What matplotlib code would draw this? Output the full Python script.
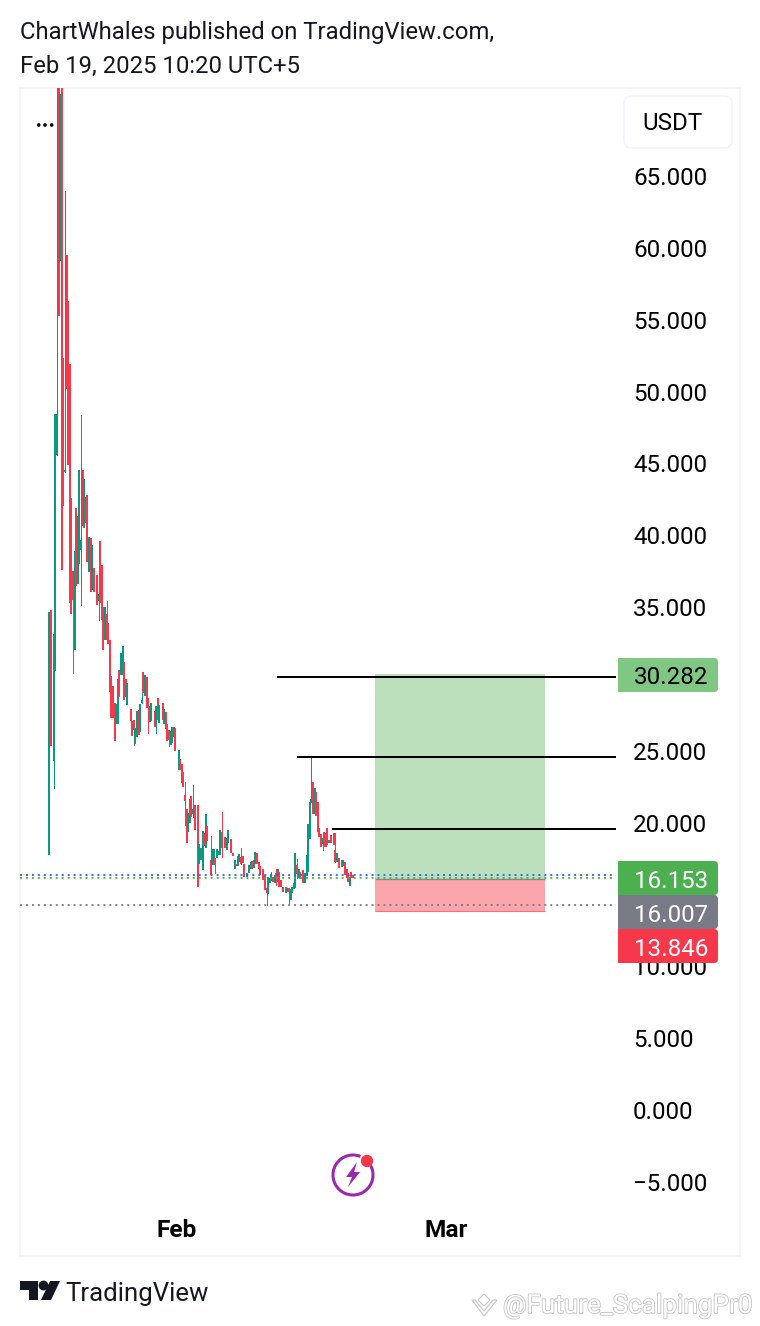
import matplotlib
matplotlib.use('Agg')
import matplotlib.pyplot as plt
import matplotlib.patheffects as pe
from matplotlib.patches import Rectangle, FancyBboxPatch, Circle, Polygon, Arc
from matplotlib.transforms import ScaledTranslation

plt.rcParams['font.family'] = ['Roboto', 'DejaVu Sans']

# 4h candles, bar 0 is the first candle on the chart
bars = [0, 1, 3, 4, 5, 6, 7, 8, 9, 10,
        11, 12, 13, 14, 15, 16, 17, 18, 19, 20,
        21, 22, 23, 24, 25, 26, 27, 28, 30, 31,
        32, 33, 34, 35, 36, 37, 38, 39, 40, 41,
        42, 43, 44, 45, 46, 47, 48, 49, 51, 52,
        53, 54, 55, 56, 57, 58, 59, 60, 61, 62,
        63, 64, 66, 67, 68, 69, 71, 72, 73, 74,
        75, 76, 77, 78, 79, 81, 82, 83, 84, 85,
        86, 87, 88, 89, 90, 91, 93, 94, 95, 96,
        97, 98, 99, 101, 102, 103, 104, 105, 106, 107,
        108, 110, 111, 112, 114, 115, 116, 117, 118, 119,
        120, 121, 122, 124, 125, 126, 127, 128, 129, 130,
        131, 132, 134, 135, 136, 137, 138, 139, 140, 141,
        142, 143, 144, 145, 146, 148, 149, 150, 151, 152,
        153, 154, 155, 156, 157, 159, 160, 161, 162, 163,
        164, 165, 166, 167, 168, 169, 170, 171, 172, 173,
        174, 175, 176, 178, 179, 180, 181, 183, 184, 185,
        186, 187, 188, 189, 190]
body_top = [34.73, 34.87, 33.20, 48.51, 48.51, 71.19, 70.78, 71.19, 52.41, 44.63,
            59.57, 56.37, 51.99, 42.67, 37.59, 38.98, 41.97, 41.41, 44.61, 39.75,
            44.61, 43.99, 42.74, 42.88, 39.95, 39.88, 39.40, 37.80, 37.31, 36.00,
            39.67, 37.99, 35.08, 35.08, 34.60, 33.97, 32.79, 30.28, 29.58, 28.40,
            28.33, 30.07, 30.70, 31.88, 32.37, 31.26, 30.07, 29.79, 27.98, 27.15,
            27.22, 26.66, 27.84, 27.91, 28.33, 28.60, 30.56, 30.35, 30.21, 28.75,
            28.19, 28.40, 27.84, 28.19, 28.75, 28.26, 28.40, 27.98, 27.78, 26.94,
            26.52, 26.45, 26.73, 26.73, 26.66, 25.13, 24.50, 24.16, 23.60, 22.00,
            21.03, 20.75, 21.72, 21.93, 21.00, 21.30, 21.30, 18.59, 18.32, 19.50,
            19.36, 20.68, 19.84, 17.48, 18.24, 18.24, 17.62, 18.24, 18.10, 19.57,
            19.43, 19.08, 19.01, 19.57, 18.94, 17.97, 17.48, 17.20, 17.76, 17.90,
            17.68, 17.76, 17.20, 16.57, 17.13, 17.34, 17.41, 17.48, 18.03, 17.97,
            17.34, 17.06, 16.85, 16.43, 15.50, 16.30, 16.23, 16.50, 16.30, 16.43,
            16.60, 16.85, 16.64, 16.09, 15.60, 15.60, 15.53, 15.53, 15.46, 15.60,
            15.88, 17.97, 17.10, 16.85, 16.64, 16.78, 16.57, 17.83, 19.98, 21.51,
            21.70, 22.91, 22.49, 22.21, 21.52, 19.70, 19.29, 19.00, 19.43, 19.36,
            19.70, 18.87, 19.22, 19.36, 18.17, 17.97, 17.62, 17.48, 17.48, 17.34,
            16.85, 16.57, 16.30, 16.64, 16.43]
body_bot = [17.83, 25.41, 24.37, 30.63, 45.66, 55.33, 59.16, 37.66, 42.11, 44.47,
            50.25, 44.96, 35.36, 34.60, 35.57, 32.09, 36.54, 36.68, 38.07, 39.05,
            40.72, 40.58, 40.93, 38.21, 37.52, 36.13, 36.27, 36.13, 35.22, 35.50,
            35.36, 34.18, 32.09, 32.79, 32.79, 32.51, 29.17, 27.36, 27.36, 25.76,
            26.94, 26.94, 28.82, 30.35, 30.35, 28.61, 28.82, 28.26, 27.15, 26.11,
            26.52, 25.55, 26.04, 26.18, 26.38, 28.40, 29.10, 28.89, 28.06, 28.06,
            27.08, 27.15, 26.73, 27.22, 27.22, 27.01, 27.22, 26.94, 26.59, 25.76,
            25.83, 25.48, 25.62, 26.04, 25.06, 23.74, 23.74, 22.84, 22.56, 21.60,
            18.66, 19.43, 20.05, 20.47, 20.70, 19.57, 15.60, 17.20, 17.48, 16.78,
            18.45, 18.32, 18.80, 16.43, 17.13, 17.13, 17.20, 17.62, 17.83, 17.83,
            18.32, 18.32, 18.17, 18.66, 17.97, 17.76, 16.85, 17.06, 17.06, 17.34,
            17.20, 17.27, 16.30, 16.30, 16.57, 16.85, 16.85, 16.92, 17.20, 17.20,
            16.85, 16.43, 16.09, 15.39, 15.20, 15.11, 15.88, 16.09, 15.95, 15.88,
            16.20, 15.95, 15.60, 15.60, 15.25, 15.18, 15.25, 15.25, 14.70, 15.18,
            15.46, 15.53, 16.50, 16.23, 16.15, 15.88, 15.88, 16.37, 16.64, 18.94,
            21.50, 20.68, 20.68, 20.54, 19.43, 19.08, 18.38, 18.60, 18.38, 18.38,
            18.52, 18.66, 18.66, 18.52, 17.34, 17.34, 16.92, 17.00, 17.06, 16.40,
            16.23, 15.95, 15.67, 16.23, 16.23]
directions = ('GRGGGRGRRG' 'RRRRRGRGGG' 'RGRRGRGRRG' 'RRRGRRRRRR' 'GGRGGRRGRR'
              'RGGRGGRGRR' 'RGRGRGRGRR' 'RGGGRGRRRR' 'RGGRGRRGGG' 'RGRRGGRGGG'
              'RRGGRRGRGG' 'RRRGGGRGGR' 'RRRRRGGGRG' 'RGRRRRGRGG' 'GGRGRRGGGG'
              'GRGRRRRGRR' 'RGRRRGRRGR' 'RRGRR')
# wicks, only where they stick out of the body
wick_high = {5: 71.19, 10: 64.03, 20: 48.44, 31: 38.56, 36: 35.50, 58: 30.49, 85: 22.91,
             90: 22.70, 101: 19.15, 108: 20.82, 120: 18.31, 136: 16.09, 139: 16.64,
             142: 16.85, 155: 17.55, 164: 24.64, 171: 19.43, 179: 19.36}
wick_low = {3: 22.49, 15: 30.49, 20: 35.22, 31: 34.18, 53: 25.48, 62: 26.32, 67: 26.32,
            75: 25.41, 85: 19.92, 90: 20.47, 104: 16.57, 108: 17.68, 136: 14.35,
            142: 15.74, 150: 14.49, 155: 16.23, 171: 18.17}

# 30 and 15 sit fully behind the price tags in the reference
price_ticks = [65, 60, 55, 50, 45, 40, 35, 25, 20, 10, 5, 0, -5]
take_profit = 30.282
entry = 16.153
stop_loss = 13.846
resistance_levels = [(30.2, 142.5), (24.64, 155), (19.64, 177)]
blue_level = 16.40
green_level = 16.23
gray_level = 14.34
position_bars = (204, 310)
month_bars = [80, 248]
month_labels = ['Feb', 'Mar']
price_tags = [('30.282', 658, '#81C784', 'black'), ('16.153', 861, '#4CAF50', 'white'),
              ('16.007', 895, '#787B86', 'white'), ('13.846', 929, '#F7374A', 'white')]

UP = '#089981'
DOWN = '#F7374A'
W, H = 760, 1326

fig = plt.figure(figsize=(W / 100, H / 100), dpi=100, facecolor='white')
ax = fig.add_axes([20 / W, 1 - 1256 / H, 720 / W, 1168 / H])
ax.set_xlim(-18.125, 431.875)
ax.set_ylim(-10.08, 71.19)
for s in ax.spines.values():
    s.set_color('#F2F3F5')
    s.set_linewidth(1.1)

for b, t, m, d in zip(bars, body_top, body_bot, directions):
    c = UP if d == 'G' else DOWN
    ax.bar(b, t - m, bottom=m, width=1.25, color=c, linewidth=0, antialiased=False, zorder=3)
    hi = wick_high.get(b, t)
    lo = wick_low.get(b, m)
    if hi > t or lo < m:
        ax.vlines(b, lo, hi, color=c, linewidth=0.72, antialiased=False, zorder=3)

# long position box
x0, x1 = position_bars
ax.add_patch(Rectangle((x0, entry - 0.05), x1 - x0, take_profit + 0.15 - entry, facecolor='#BBE0BB',
                       edgecolor='none', zorder=2))
ax.add_patch(Rectangle((x0, stop_loss), x1 - x0, entry - 0.05 - stop_loss, facecolor='#FCA5AD',
                       edgecolor='none', zorder=2))
ax.hlines(entry, x0, x1, color='#7F8C85', linewidth=1.0, zorder=2.5)
ax.hlines(stop_loss + 0.1, x0, x1, color='#F7707C', linewidth=0.8, zorder=2.5)

right_end = 354.4
for level, start in resistance_levels:
    ax.hlines(level, start, right_end, color='black', linewidth=1.45, zorder=4)
for level, col in [(blue_level, '#2962FF'), (green_level, '#4CAF50'), (gray_level, '#787B86')]:
    ax.hlines(level, -18.125, right_end, color=col, linewidth=1.3,
              linestyle=(0, (1.1, 2.2)), zorder=4)

ax.set_xticks(month_bars)
ax.set_xticklabels(month_labels, fontweight='bold')
ax.tick_params(axis='x', length=0, pad=-26.8, labelsize=17.6, labelcolor='black')
ax.yaxis.tick_right()
ax.set_yticks(price_ticks)
ax.set_yticklabels([f'{v:.3f}'.replace('-', '\u2212') for v in price_ticks], ha='left')
ax.tick_params(axis='y', length=0, pad=-77, labelsize=17.4, labelcolor='black')
for lab in ax.get_yticklabels():
    lab.set_transform(lab.get_transform() + ScaledTranslation(0, 1 / 100, fig.dpi_scale_trans))

# overlay in pixels for the tradingview chrome
ov = fig.add_axes([0, 0, 1, 1])
ov.set_xlim(0, W)
ov.set_ylim(H, 0)
ov.axis('off')
ov.patch.set_alpha(0)

ov.text(20, 33, 'ChartWhales published on TradingView.com,', fontsize=17.2, va='center', color='#131722')
ov.text(20, 66, 'Feb 19, 2025 10:20 UTC+5', fontsize=17.2, va='center', color='#131722')

ov.add_patch(FancyBboxPatch((628, 100), 100, 44, boxstyle='round,pad=4,rounding_size=8',
                            facecolor='white', edgecolor='#F0F3FA', linewidth=1.1))
ov.text(642, 124, 'USDT', fontsize=17.4, va='center', color='black')

for dx in (38.7, 45, 51.7):
    ov.add_patch(Circle((dx, 125), 1.1, color='black'))

for label, top, col, txt in price_tags:
    ov.add_patch(FancyBboxPatch((622, top), 96, 34, boxstyle='round,pad=0,rounding_size=4',
                                facecolor=col, edgecolor='none'))
    ov.add_patch(Rectangle((618, top), 90, 34, facecolor=col, edgecolor='none'))
    ov.text(634, top + (19 if txt == 'black' else 20), label, fontsize=17.4, va='center', color=txt)

# bolt icon
purple = '#9C27B0'
ov.add_patch(Arc((353, 1175), 40, 40, theta1=-28, theta2=292, color=purple, linewidth=2.2))
ov.add_patch(Polygon([(357, 1162), (346, 1177), (352, 1177), (348, 1187), (360, 1172), (354, 1172)],
                     closed=True, facecolor=purple, edgecolor='none'))
ov.add_patch(Circle((367, 1161), 5.5, color='#F7374A'))

# logo
ov.add_patch(Polygon([(20, 1281), (38, 1281), (38, 1300), (29, 1300), (29, 1290), (20, 1290)],
                     closed=True, facecolor='#131722', edgecolor='none'))
ov.add_patch(Circle((43.5, 1285.5), 4.2, color='#131722'))
ov.add_patch(Polygon([(50, 1281), (60, 1281), (51, 1300), (41, 1300)], closed=True,
                     facecolor='#131722', edgecolor='none'))
ov.text(65, 1294, 'TradingView', fontsize=18.5, va='center', color='#131722')

# watermark
wm = ov.text(503, 1306, '@Future_ScalpingPr0', fontsize=18.8, va='center', color='white')
wm.set_path_effects([pe.withStroke(linewidth=1.2, foreground='#C4C4C4')])
for pts in ([(484, 1294), (490, 1300), (484, 1306), (478, 1300)],
            [(475, 1300), (484, 1311), (493, 1300), (497, 1300), (484, 1316), (472, 1300)]):
    ov.add_patch(Polygon(pts, closed=True, facecolor='white', edgecolor='#C4C4C4', linewidth=0.8))

fig.savefig('out.png', dpi=100, facecolor='white')
